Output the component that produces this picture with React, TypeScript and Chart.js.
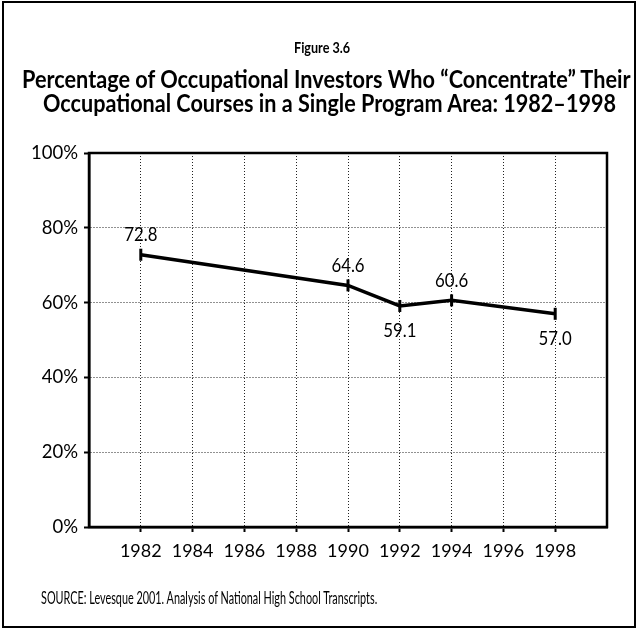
import React, { useEffect, useLayoutEffect, useRef } from "react";
import { Chart, registerables } from "chart.js";

Chart.register(...registerables);

const years = [1982, 1990, 1992, 1994, 1998];
const values = [72.8, 64.6, 59.1, 60.6, 57.0];
const valueLabels = ["72.8", "64.6", "59.1", "60.6", "57.0"];
const labelSides = ["above", "above", "below", "above", "below"];
const xTickYears = [1982, 1984, 1986, 1988, 1990, 1992, 1994, 1996, 1998];
const yTicks = [0, 20, 40, 60, 80, 100];

const FONT = "'Lato', 'Noto Sans', sans-serif";

const plotFrame = {
  id: "plotFrame",
  afterDraw(chart: any) {
    const { ctx, chartArea } = chart;
    ctx.save();
    ctx.strokeStyle = "#000";
    ctx.lineWidth = 2.5;
    ctx.strokeRect(chartArea.left, chartArea.top, chartArea.right - chartArea.left, chartArea.bottom - chartArea.top);
    ctx.restore();
  },
};

const pointLabels = {
  id: "pointLabels",
  afterDatasetsDraw(chart: any) {
    const { ctx } = chart;
    const meta = chart.getDatasetMeta(0);
    ctx.save();
    ctx.fillStyle = "#000";
    ctx.font = `20px ${FONT}`;
    ctx.textAlign = "center";
    ctx.textBaseline = "middle";
    meta.data.forEach((pt: any, i: number) => {
      const dy = labelSides[i] === "above" ? -20 : 25;
      ctx.save();
      ctx.translate(pt.x, pt.y + dy);
      ctx.scale(0.84, 1);
      ctx.fillText(valueLabels[i], 0, 0);
      ctx.restore();
    });
    ctx.restore();
  },
};

function FitText(props: { cx: number; width: number; top: number; size: number; bold?: boolean; children: any }) {
  const r = useRef<HTMLSpanElement>(null);
  useLayoutEffect(() => {
    const el = r.current;
    if (!el) return;
    const w = el.offsetWidth;
    if (w > 0) el.style.transform = `scaleX(${props.width / w})`;
  }, []);
  return (
    <span
      ref={r}
      style={{
        position: "absolute",
        left: props.cx - props.width / 2,
        top: props.top,
        whiteSpace: "nowrap",
        fontSize: props.size,
        lineHeight: `${props.size}px`,
        fontWeight: props.bold ? "bold" : "normal",
        transformOrigin: "0 0",
        display: "inline-block",
      }}
    >
      {props.children}
    </span>
  );
}

export default function App() {
  const ref = useRef<HTMLCanvasElement>(null);
  useEffect(() => {
    if (!ref.current) return;
    const chart = new Chart(ref.current, {
      type: "line",
      data: {
        datasets: [
          {
            data: years.map((y, i) => ({ x: y, y: values[i] })),
            borderColor: "#000",
            backgroundColor: "#000",
            borderWidth: 3.5,
            tension: 0,
            pointStyle: "line",
            rotation: 90,
            pointRadius: 6,
            pointBorderWidth: 3,
            pointBorderColor: "#000",
            clip: false as any,
          },
        ],
      },
      options: {
        animation: false,
        responsive: false,
        devicePixelRatio: 1,
        layout: { padding: { left: 0, top: 153, right: 31, bottom: 0 } },
        plugins: { legend: { display: false }, title: { display: false }, tooltip: { enabled: false } },
        scales: {
          x: {
            type: "linear",
            min: 1980,
            max: 2000,
            afterBuildTicks: (s: any) => {
              s.ticks = xTickYears.map((v) => ({ value: v }));
            },
            afterFit: (s: any) => {
              s.height = 104;
            },
            ticks: {
              color: "#000",
              font: { family: FONT, size: 18 },
              padding: 8,
              maxRotation: 0,
              autoSkip: false,
              callback: (v: any) => String(v),
            },
            grid: {
              color: "#222",
              lineWidth: 1,
              drawTicks: true,
              tickLength: 5,
              tickColor: "#000",
              tickWidth: 2,
              tickBorderDash: [4, 0],
            },
            border: { display: true, color: "#000", width: 2.5, dash: [1, 2] },
          },
          y: {
            min: 0,
            max: 100,
            afterBuildTicks: (s: any) => {
              s.ticks = yTicks.map((v) => ({ value: v }));
            },
            afterFit: (s: any) => {
              s.width = 89;
            },
            ticks: {
              color: "#000",
              font: { family: FONT, size: 18.5 },
              padding: 6,
              callback: (v: any) => v + "%",
            },
            grid: {
              color: "#222",
              lineWidth: 1,
              drawTicks: true,
              tickLength: 5,
              tickColor: "#000",
              tickWidth: 2,
              tickBorderDash: [4, 0],
            },
            border: { display: true, color: "#000", width: 2.5, dash: [1, 2] },
          },
        },
      },
      plugins: [plotFrame, pointLabels],
    });
    return () => chart.destroy();
  }, []);

  return (
    <div style={{ position: "absolute", left: 0, top: 0, width: 638, height: 631, background: "#fff", overflow: "hidden", fontFamily: FONT, color: "#000" }}>
      <canvas ref={ref} width={638} height={631} style={{ position: "absolute", left: 0, top: 0, width: 638, height: 631 }} />
      <div style={{ position: "absolute", left: 2, top: 1, width: 630, height: 623, border: "2px solid #000", pointerEvents: "none" }} />
      <FitText cx={322} width={56} top={39} size={16} bold>
        Figure 3.6
      </FitText>
      <FitText cx={326.5} width={609} top={66} size={25} bold>
        Percentage of Occupational Investors Who “Concentrate” Their
      </FitText>
      <FitText cx={329.5} width={573} top={90} size={25} bold>
        Occupational Courses in a Single Program Area: 1982–1998
      </FitText>
      <FitText cx={209} width={336} top={589} size={17}>
        SOURCE: Levesque 2001. Analysis of National High School Transcripts.
      </FitText>
    </div>
  );
}
